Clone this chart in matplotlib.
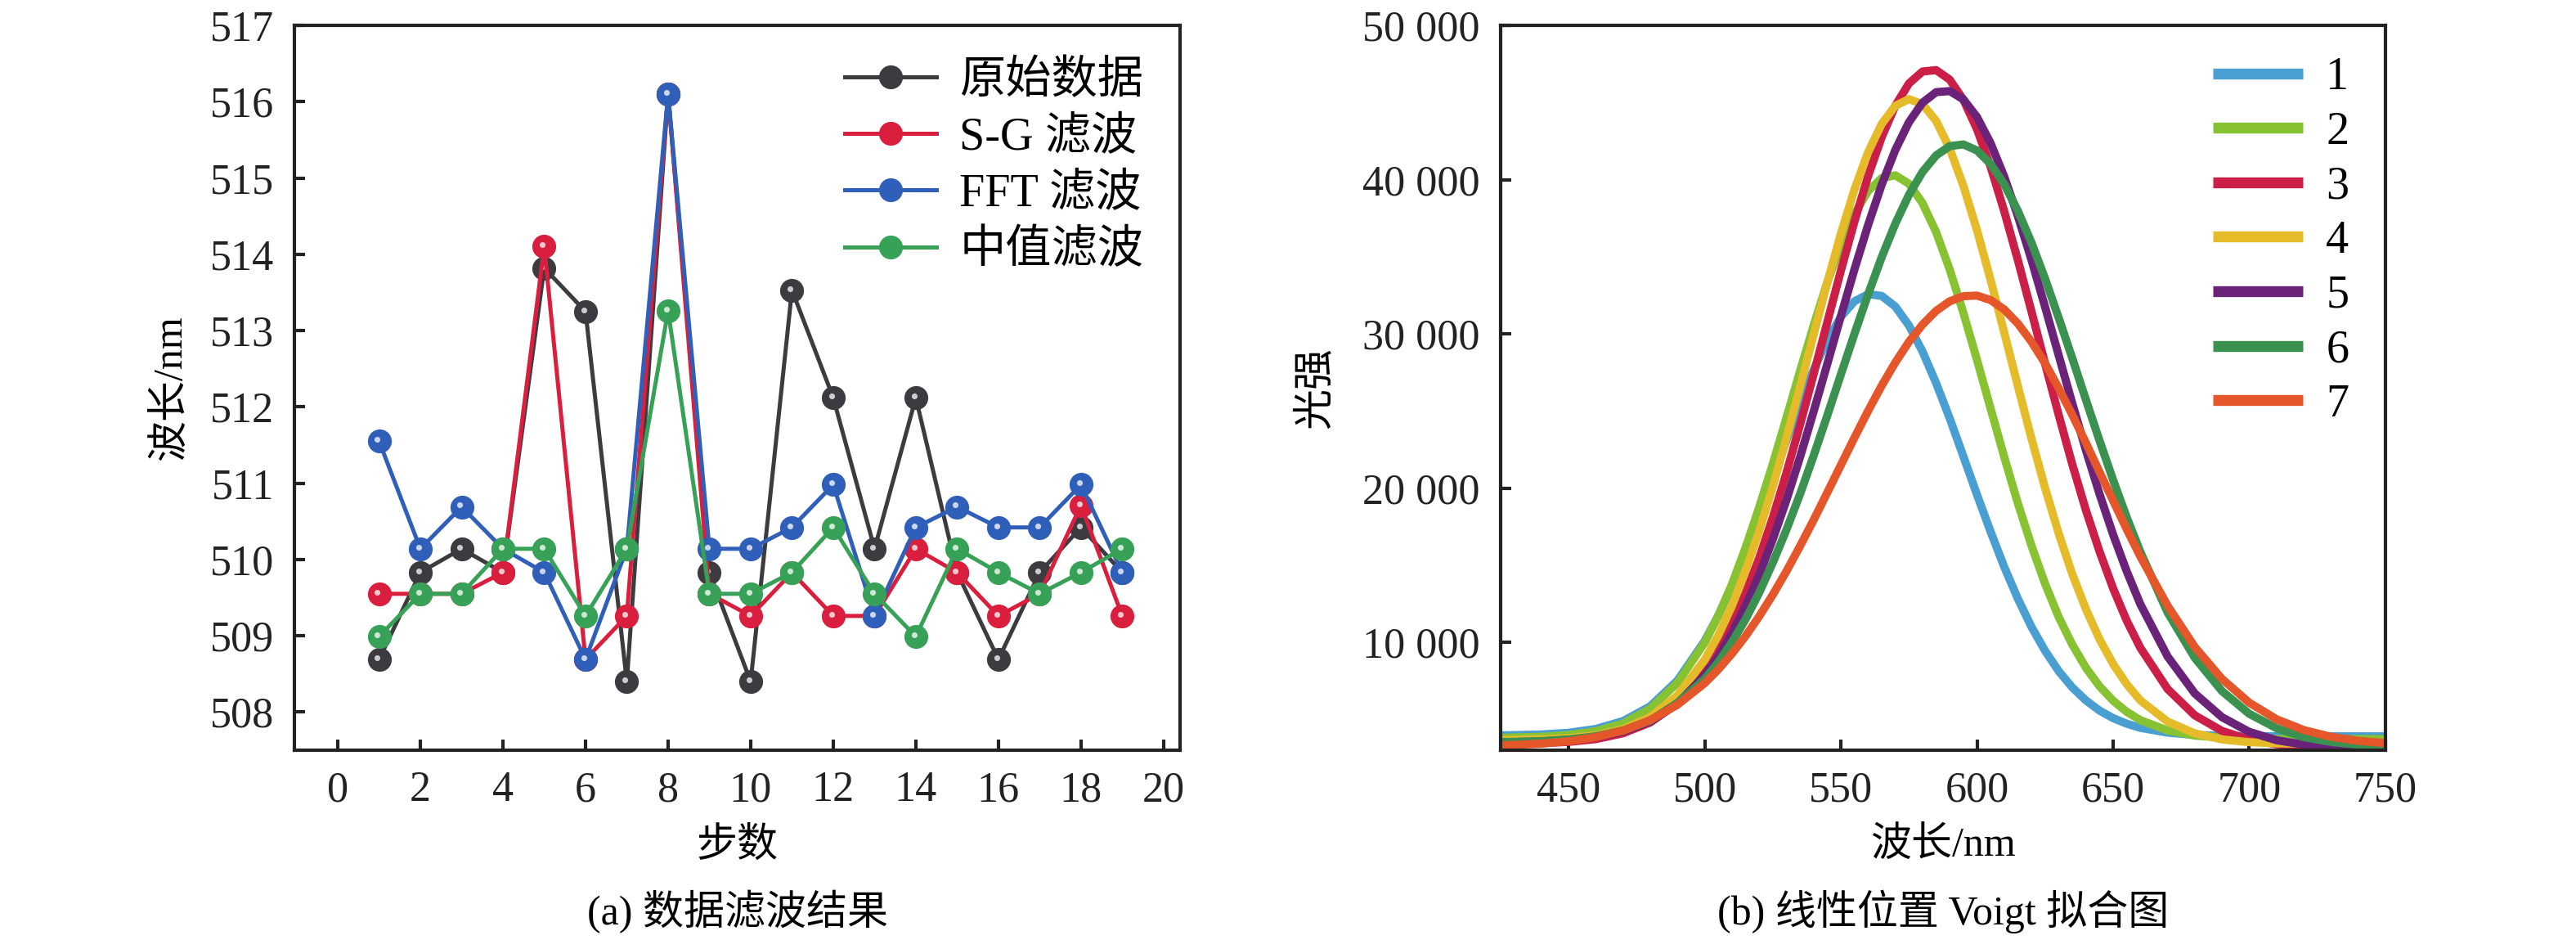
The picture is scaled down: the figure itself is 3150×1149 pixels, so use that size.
import numpy as np
import matplotlib
matplotlib.use("Agg")
import matplotlib.pyplot as plt
from matplotlib.ticker import FuncFormatter, MultipleLocator
from matplotlib.transforms import offset_copy

plt.rcParams['font.family'] = ['Liberation Serif', 'Noto Sans CJK SC']
plt.rcParams['axes.unicode_minus'] = False

# ---- (a) data filtering ----
steps = list(range(1, 20))
raw = [508.69, 509.83, 510.14, 509.83, 513.82, 513.25, 508.40, 516.10, 509.83, 508.40,
       513.53, 512.12, 510.14, 512.12, 509.83, 508.69, 509.83, 510.42, 509.83]
sg = [509.55, 509.55, 509.55, 509.83, 514.10, 508.69, 509.26, 516.10, 509.55, 509.26,
      509.83, 509.26, 509.26, 510.14, 509.83, 509.26, 509.55, 510.71, 509.26]
fft = [511.55, 510.14, 510.69, 510.14, 509.83, 508.69, 510.14, 516.10, 510.14, 510.14,
       510.42, 510.98, 509.26, 510.42, 510.69, 510.42, 510.42, 510.98, 509.83]
med = [508.99, 509.55, 509.55, 510.14, 510.14, 509.26, 510.14, 513.26, 509.55, 509.55,
       509.83, 510.42, 509.55, 508.99, 510.14, 509.83, 509.55, 509.83, 510.14]
a_labels = ['原始数据', 'S-G 滤波', 'FFT 滤波', '中值滤波']
a_colors = ['#3b3b40', '#d91f3d', '#2f5fb8', '#37a257']

# ---- (b) Voigt fits, intensity in thousands ----
wl = [425, 430, 440, 450, 460, 470, 480, 490,
      500, 505, 510, 515, 520, 525, 530, 535, 540, 545, 550, 555, 560, 565, 570, 575,
      580, 585, 590, 595, 600, 605, 610, 615, 620, 625, 630, 635, 640, 645, 650, 655, 660,
      670, 680, 690, 700, 710, 720, 730, 740, 750]
c1 = [3.96, 3.98, 4.02, 4.13, 4.38, 4.89, 5.85, 7.52,
      10.09, 11.74, 13.66, 15.78, 18.13, 20.58, 23.06, 25.47, 27.67, 29.59, 31.10, 32.11,
      32.57, 32.46, 31.77, 30.54, 28.85, 26.80, 24.51, 22.05, 19.57, 17.17, 14.89, 12.83,
      11.00, 9.45, 8.13, 7.07, 6.23, 5.57, 5.08, 4.72, 4.45,
      4.14, 3.99, 3.93, 3.91, 3.90, 3.90, 3.90, 3.90, 3.90]
c2 = [3.81, 3.83, 3.87, 3.99, 4.23, 4.73, 5.70, 7.36,
      9.98, 11.72, 13.76, 16.13, 18.75, 21.57, 24.55, 27.58, 30.54, 33.33, 35.77, 37.78,
      39.25, 40.10, 40.28, 39.73, 38.47, 36.59, 34.16, 31.36, 28.31, 25.16, 22.02, 19.02,
      16.27, 13.80, 11.64, 9.85, 8.35, 7.15, 6.21, 5.49, 4.95,
      4.28, 3.95, 3.81, 3.75, 3.73, 3.72, 3.72, 3.72, 3.72]
c3 = [3.41, 3.42, 3.46, 3.54, 3.72, 4.10, 4.80, 6.04,
      8.08, 9.47, 11.14, 13.17, 15.45, 18.08, 20.97, 24.09, 27.38, 30.74, 34.09, 37.28,
      40.22, 42.75, 44.79, 46.23, 47.01, 47.10, 46.48, 45.18, 43.27, 40.84, 37.95, 34.79,
      31.46, 28.08, 24.75, 21.54, 18.57, 15.89, 13.49, 11.40, 9.64,
      6.97, 5.26, 4.25, 3.68, 3.39, 3.25, 3.19, 3.16, 3.15]
c4 = [3.66, 3.67, 3.70, 3.78, 3.97, 4.37, 5.15, 6.55,
      8.86, 10.45, 12.36, 14.65, 17.20, 20.09, 23.23, 26.56, 29.94, 33.31, 36.49, 39.36,
      41.77, 43.61, 44.78, 45.22, 44.89, 43.80, 42.00, 39.60, 36.72, 33.50, 30.09, 26.62,
      23.22, 20.01, 17.06, 14.42, 12.15, 10.20, 8.59, 7.28, 6.23,
      4.86, 4.09, 3.70, 3.52, 3.45, 3.42, 3.40, 3.40, 3.40]
c5 = [3.52, 3.53, 3.57, 3.66, 3.84, 4.21, 4.87, 6.02,
      7.86, 9.08, 10.58, 12.35, 14.37, 16.67, 19.21, 22.00, 24.96, 28.03, 31.14, 34.18,
      37.05, 39.67, 41.92, 43.72, 44.99, 45.67, 45.74, 45.20, 44.06, 42.36, 40.20, 37.64,
      34.80, 31.75, 28.61, 25.49, 22.46, 19.62, 16.98, 14.60, 12.47,
      9.08, 6.68, 5.14, 4.19, 3.65, 3.36, 3.22, 3.15, 3.12]
c6 = [3.53, 3.54, 3.59, 3.70, 3.90, 4.28, 4.93, 6.07,
      7.62, 8.71, 10.00, 11.49, 13.21, 15.16, 17.29, 19.60, 22.10, 24.69, 27.36, 30.00,
      32.56, 34.97, 37.14, 39.01, 40.50, 41.57, 42.17, 42.28, 41.89, 41.02, 39.70, 37.98,
      35.92, 33.58, 31.04, 28.42, 25.73, 23.08, 20.52, 18.10, 15.86,
      11.94, 8.99, 6.83, 5.36, 4.43, 3.85, 3.54, 3.36, 3.27]
c7 = [3.31, 3.34, 3.43, 3.58, 3.85, 4.27, 4.95, 5.95,
      7.35, 8.24, 9.26, 10.40, 11.68, 13.08, 14.60, 16.23, 17.93, 19.70, 21.49, 23.27,
      25.00, 26.64, 28.14, 29.48, 30.60, 31.49, 32.11, 32.44, 32.48, 32.19, 31.58, 30.67,
      29.49, 28.09, 26.48, 24.75, 22.93, 21.04, 19.18, 17.33, 15.56,
      12.37, 9.69, 7.62, 6.08, 5.01, 4.31, 3.87, 3.61, 3.46]
b_labels = ['1', '2', '3', '4', '5', '6', '7']
b_colors = ['#4a9fd2', '#86c232', '#cc1f48', '#e5bb2a', '#6b237a', '#3a9150', '#e5562a']

fig = plt.figure(figsize=(10.5, 3.83), dpi=300)
ax1 = fig.add_axes([0.1143, 0.2019, 0.3438, 0.7711])
ax2 = fig.add_axes([0.5825, 0.2019, 0.3435, 0.7711])

# left panel
hl = offset_copy(ax1.transData, fig=fig, x=-0.5, y=0.5, units='points')
for ys, col, lab in zip([raw, sg, fft, med], a_colors, a_labels):
    ax1.plot(steps, ys, color=col, lw=1.2, marker='o', ms=6, mfc=col, mec=col, label=lab)
    ax1.plot(steps, ys, ls='none', marker='o', ms=1.7, mfc='white', mec='none', alpha=0.75,
             transform=hl)
ax1.set_xlim(-1.05, 20.4)
ax1.set_ylim(507.5, 517)
ax1.xaxis.set_major_locator(MultipleLocator(2))
ax1.yaxis.set_major_locator(MultipleLocator(1))
ax1.set_xlabel('步数', fontsize=12, labelpad=5)
ax1.set_ylabel('波长/nm', fontsize=12, labelpad=6)
leg1 = ax1.legend(loc='upper right', frameon=False, fontsize=13.5, handlelength=2.0,
                  labelspacing=0.3, handletextpad=0.5, borderaxespad=0.2,
                  bbox_to_anchor=(0.99, 0.99), numpoints=1)

# right panel
for ys, col, lab in zip([c1, c2, c3, c4, c5, c6, c7], b_colors, b_labels):
    ax2.plot(wl, np.array(ys) * 1000, color=col, lw=2.4, label=lab, solid_capstyle='butt')
ax2.set_xlim(425, 750)
ax2.set_ylim(3000, 50000)
ax2.xaxis.set_major_locator(MultipleLocator(50))
ax2.yaxis.set_major_locator(MultipleLocator(10000))
ax2.yaxis.set_major_formatter(FuncFormatter(lambda v, p: f"{int(v):,}".replace(',', ' ')))
ax2.set_xlabel('波长/nm', fontsize=12, labelpad=5)
ax2.set_ylabel('光强', fontsize=12, labelpad=8)
leg2 = ax2.legend(loc='upper right', frameon=False, fontsize=13.5, handlelength=1.95,
                  labelspacing=0.26, handletextpad=0.5, borderaxespad=0.2,
                  bbox_to_anchor=(0.99, 0.995))
for h in leg2.get_lines():
    h.set_linewidth(3.2)

for ax in (ax1, ax2):
    for s in ax.spines.values():
        s.set_linewidth(1.0)
        s.set_color('#222222')
    ax.tick_params(direction='in', length=3.2, width=1.0, labelsize=12.5, pad=6,
                   top=False, right=False, colors='#222222')

fig.text(0.2862, 0.030, '(a) 数据滤波结果', ha='center', va='center', fontsize=12)
fig.text(0.7543, 0.030, '(b) 线性位置 Voigt 拟合图', ha='center', va='center', fontsize=12)

fig.savefig('out.png', dpi=300)
